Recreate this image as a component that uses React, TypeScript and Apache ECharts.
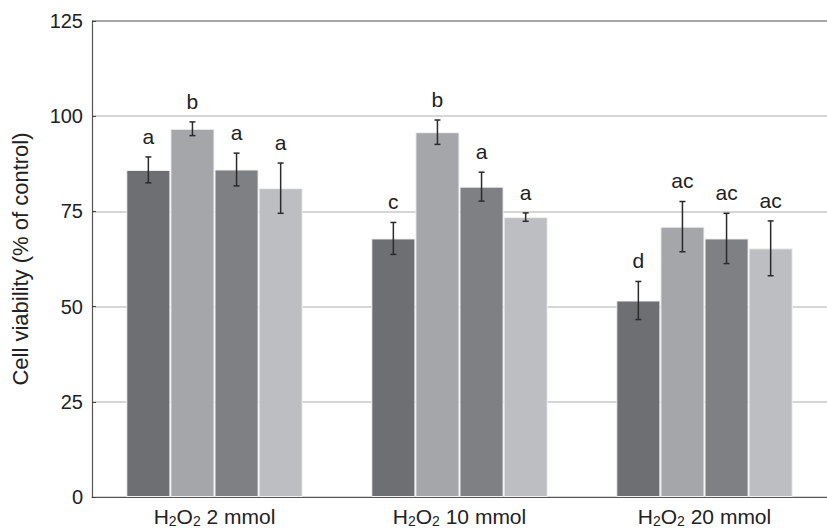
import React, { useEffect, useRef } from "react";
import * as echarts from "echarts";

const doses = ["2 mmol", "10 mmol", "20 mmol"];
const yTicks = [0, 25, 50, 75, 100, 125];

const seriesNames = ["Group 1", "Group 2", "Group 3", "Group 4"];
const means1 = [85.9, 67.9, 51.6];
const means2 = [96.7, 95.8, 71.0];
const means3 = [86.0, 81.5, 67.9];
const means4 = [81.1, 73.5, 65.3];
const errs1 = [3.4, 4.2, 5.0];
const errs2 = [1.8, 3.2, 6.6];
const errs3 = [4.3, 3.8, 6.6];
const errs4 = [6.6, 1.1, 7.2];
const letters1 = ["a", "c", "d"];
const letters2 = ["b", "b", "ac"];
const letters3 = ["a", "a", "ac"];
const letters4 = ["a", "a", "ac"];

const colors = ["#6e6f73", "#a5a6aa", "#7f8084", "#bdbec2"];
const FONT = "'Liberation Sans', Arial, Helvetica, sans-serif";
const CAT_GAP = 0.28;

export default function App() {
  const ref = useRef<HTMLDivElement>(null);
  useEffect(() => {
    if (!ref.current) return;
    const chart = echarts.init(ref.current, undefined, { renderer: "svg" });
    const means = [means1, means2, means3, means4];
    const errs = [errs1, errs2, errs3, errs4];
    const letters = [letters1, letters2, letters3, letters4];

    const barSeries = means.map((m, s) => ({
      type: "bar",
      name: seriesNames[s],
      data: m,
      barGap: "0%",
      barCategoryGap: CAT_GAP * 100 + "%",
      itemStyle: { color: colors[s], borderColor: "#f2f2f2", borderWidth: 1 },
      z: 2,
    }));

    const errSeries = means.map((m, s) => ({
      type: "custom",
      name: seriesNames[s] + " err",
      data: m.map((v, i) => [i, v]),
      encode: { x: 0, y: 1 },
      z: 5,
      clip: false,
      renderItem: (params: any, api: any) => {
        const ci = api.value(0);
        const v = api.value(1);
        const e = errs[s][ci];
        const c = api.coord([ci, v]);
        const catW = api.size([1, 0])[0];
        const bw = (catW * (1 - CAT_GAP)) / 4;
        const x = c[0] + (s - 1.5) * bw;
        const top = api.coord([ci, v + e])[1];
        const bot = api.coord([ci, v - e])[1];
        const ls = { stroke: "#2a2a2a", lineWidth: 1.5 };
        return {
          type: "group",
          children: [
            { type: "line", shape: { x1: x, y1: top, x2: x, y2: bot }, style: ls },
            { type: "line", shape: { x1: x - 3, y1: top, x2: x + 3, y2: top }, style: ls },
            { type: "line", shape: { x1: x - 3, y1: bot, x2: x + 3, y2: bot }, style: ls },
            {
              type: "text",
              x: x,
              y: top - 10,
              style: {
                text: letters[s][ci],
                fill: "#222",
                font: `21px ${FONT}`,
                align: "center",
                verticalAlign: "bottom",
              },
            },
          ],
        };
      },
    }));

    chart.setOption({
      animation: false,
      textStyle: { fontFamily: FONT },
      grid: { left: 92, right: -8, top: 21, bottom: 31 },
      xAxis: {
        type: "category",
        data: doses,
        axisLine: { lineStyle: { color: "#555", width: 1.2 } },
        axisTick: { inside: true, length: 4, lineStyle: { color: "#444" } },
        axisLabel: {
          margin: 8,
          formatter: (v: string) => `{n|H}{s|2}{n|O}{s|2}{n| ${v}}`,
          rich: {
            n: { fontSize: 21, color: "#222", fontFamily: FONT },
            s: { fontSize: 14, color: "#222", fontFamily: FONT, padding: [9, 0, 0, 0] },
          },
        },
      },
      yAxis: {
        type: "value",
        min: yTicks[0],
        max: yTicks[yTicks.length - 1],
        interval: 25,
        name: "Cell viability (% of control)",
        nameLocation: "middle",
        nameGap: 61,
        nameTextStyle: { fontSize: 22, color: "#222", fontFamily: FONT },
        axisLine: { show: true, lineStyle: { color: "#555", width: 1.2 } },
        axisTick: { show: true, inside: true, length: 4, lineStyle: { color: "#444" } },
        axisLabel: { fontSize: 20, color: "#222", margin: 9, fontFamily: FONT },
        splitLine: {
          show: true,
          lineStyle: {
            width: 2,
            color: ["#d6d6d6", "#d6d6d6", "#d6d6d6", "#d6d6d6", "#d6d6d6", "#a6a6a6"],
          },
        },
      },
      series: [...barSeries, ...errSeries],
    });
    return () => chart.dispose();
  }, []);
  return (
    <div
      ref={ref}
      style={{ position: "absolute", left: 0, top: 0, width: 827, height: 528, background: "#fff" }}
    />
  );
}
